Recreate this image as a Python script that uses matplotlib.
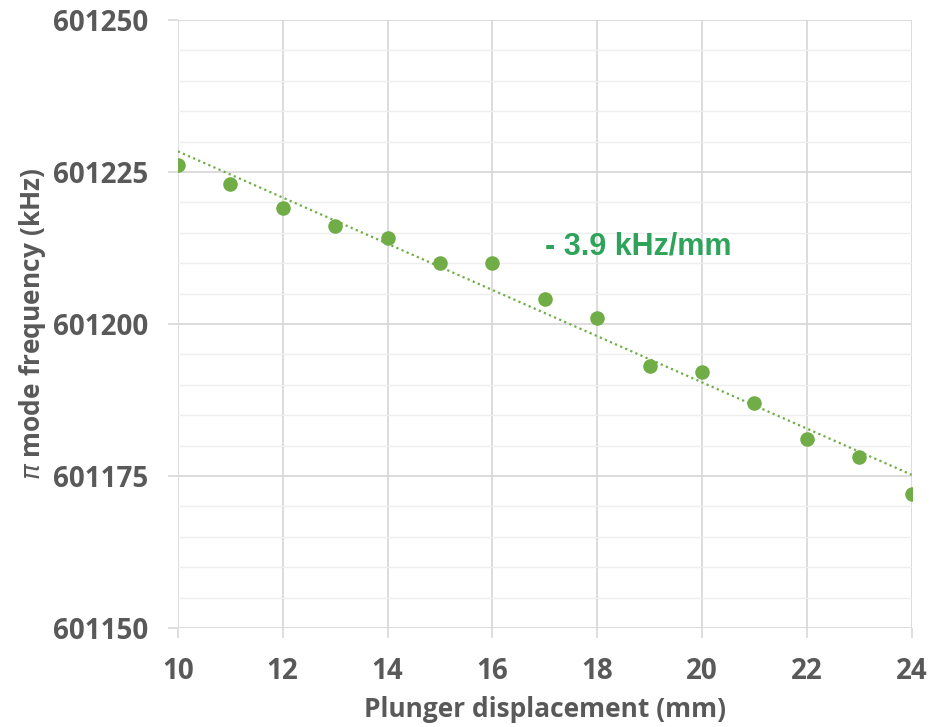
import matplotlib
matplotlib.use("Agg")
import matplotlib.pyplot as plt
from matplotlib.ticker import MultipleLocator
import numpy as np

# plunger displacement (mm) vs pi mode frequency (kHz)
displacement = [10, 11, 12, 13, 14, 15, 16, 17, 18, 19, 20, 21, 22, 23, 24]
frequency = [601226.2, 601223.0, 601219.1, 601216.1, 601214.1, 601210.0, 601210.0,
             601204.1, 601201.0, 601193.1, 601192.1, 601187.0, 601181.1, 601178.1,
             601172.0]

green = '#70ad47'
grey = '#595959'

plt.rcParams['font.family'] = ['Open Sans', 'DejaVu Sans']

fig = plt.figure(figsize=(9.36, 7.27), dpi=100)
ax = fig.add_axes([0.190, 0.1362, 0.784, 0.8363])

# linear trendline
k, b = np.polyfit(displacement, frequency, 1)
xs = np.array([displacement[0], displacement[-1]])
ax.plot(xs, k * xs + b, linestyle=(0, (1, 1.5)), color=green, linewidth=1.6, zorder=2)

ax.scatter(displacement, frequency, s=110, color=green, zorder=3, linewidths=0)

ax.text(17.0, 601212.7, '- 3.9 kHz/mm', color='#2ea35a', fontsize=22,
        fontweight='bold', family=['Liberation Sans', 'DejaVu Sans'],
        ha='left', va='center')

ax.set_xlim(10, 24)
ax.set_ylim(601150, 601250)
ax.xaxis.set_major_locator(MultipleLocator(2))
ax.yaxis.set_major_locator(MultipleLocator(25))
ax.yaxis.set_minor_locator(MultipleLocator(5))

ax.grid(which='major', color='#d9d9d9', linewidth=1.3, zorder=0)
ax.grid(which='minor', axis='y', color='#eeeeee', linewidth=1.0, zorder=0)
ax.set_axisbelow(True)
for s in ax.spines.values():
    s.set_visible(False)

ax.tick_params(which='major', length=7, color='#d9d9d9', width=1.2,
               labelsize=20, labelcolor=grey)
ax.tick_params(axis='x', pad=14)
ax.tick_params(axis='y', pad=14)
ax.tick_params(which='minor', length=0)
for lbl in ax.get_xticklabels() + ax.get_yticklabels():
    lbl.set_fontweight('bold')

ax.set_xlabel('Plunger displacement (mm)', fontsize=19, color=grey,
              fontweight='bold', labelpad=7)
ax.set_ylabel(r'$\pi$ mode frequency (kHz)', fontsize=19, color=grey,
              fontweight='bold', labelpad=4)

fig.savefig('out.png', dpi=100)
